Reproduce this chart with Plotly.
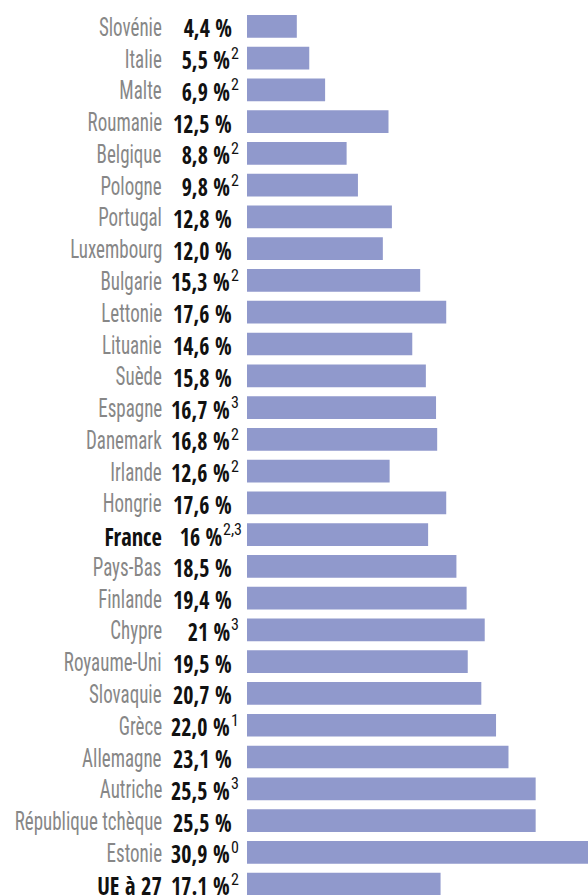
import json
import plotly.graph_objects as go

countries = ["Slovénie", "Italie", "Malte", "Roumanie", "Belgique", "Pologne", "Portugal",
             "Luxembourg", "Bulgarie", "Lettonie", "Lituanie", "Suède", "Espagne", "Danemark",
             "Irlande", "Hongrie", "France", "Pays-Bas", "Finlande", "Chypre", "Royaume-Uni",
             "Slovaquie", "Grèce", "Allemagne", "Autriche", "République tchèque", "Estonie",
             "UE à 27"]
values = [4.4, 5.5, 6.9, 12.5, 8.8, 9.8, 12.8, 12.0, 15.3, 17.6, 14.6, 15.8, 16.7, 16.8,
          12.6, 17.6, 16.0, 18.5, 19.4, 21.0, 19.5, 20.7, 22.0, 23.1, 25.5, 25.5, 30.9, 17.1]
value_labels = ["4,4 %", "5,5 %", "6,9 %", "12,5 %", "8,8 %", "9,8 %", "12,8 %", "12,0 %",
                "15,3 %", "17,6 %", "14,6 %", "15,8 %", "16,7 %", "16,8 %", "12,6 %", "17,6 %",
                "16 %", "18,5 %", "19,4 %", "21 %", "19,5 %", "20,7 %", "22,0 %", "23,1 %",
                "25,5 %", "25,5 %", "30,9 %", "17.1 %"]
notes = ["", "2", "2", "", "2", "2", "", "", "2", "", "", "", "3", "2", "2", "", "2,3", "",
         "", "3", "", "", "1", "", "3", "", "0", "2"]
highlight = ["France", "UE à 27"]

W, H = 588, 895
LEFT = 247
PX_PER_UNIT = 11.32
ROW0 = 26.3
ROW_STEP = 31.77

LABEL_FONT = "Roboto Condensed"
BOLD_FONT = "Open Sans Condensed"
BAR_COLOR = "#9099cc"
LABEL_SX = 0.76
BOLD_SX = 0.9
VALUE_SX = 0.88

ypos = list(range(len(countries)))

fig = go.Figure(go.Bar(
    x=values, y=ypos, orientation="h", marker=dict(color=BAR_COLOR, line=dict(width=0)),
    width=0.715, hoverinfo="skip"))

annotations = []
scales = {}
for i, (c, lab, n) in enumerate(zip(countries, value_labels, notes)):
    hl = c in highlight
    scales[len(annotations)] = BOLD_SX if hl else LABEL_SX
    annotations.append(dict(
        x=0, y=i, xref="x", yref="y", text=c,
        xanchor="right", yanchor="middle", xshift=164 - LEFT, yshift=-1, showarrow=False,
        font=dict(family=BOLD_FONT if hl else LABEL_FONT, size=25,
                  color="#111111" if hl else "#878787")))
    vx = 232 if not n else (230 if len(n) == 1 else 222)
    scales[len(annotations)] = VALUE_SX
    annotations.append(dict(
        x=0, y=i, xref="x", yref="y", text=lab,
        xanchor="right", yanchor="middle", xshift=vx + 2 - LEFT, yshift=-1, showarrow=False,
        font=dict(family=BOLD_FONT, size=25, color="#111111")))
    if n:
        annotations.append(dict(
            x=0, y=i, xref="x", yref="y", text=n,
            xanchor="left", yanchor="middle", xshift=vx - 1 - LEFT, yshift=5, showarrow=False,
            font=dict(family=LABEL_FONT, size=16, color="#111111")))

plot_w = W - LEFT
r0 = -ROW0 / ROW_STEP
r1 = r0 + H / ROW_STEP

fig.update_layout(
    width=W, height=H, margin=dict(l=LEFT, r=0, t=0, b=0),
    paper_bgcolor="white", plot_bgcolor="white", showlegend=False,
    xaxis=dict(range=[0, plot_w / PX_PER_UNIT], visible=False, fixedrange=True),
    yaxis=dict(range=[r1, r0], visible=False, fixedrange=True),
    annotations=annotations,
)

js = """
document.body.style.margin='0';document.body.style.overflow='hidden';
var SX = %s;
function squeeze(){
  document.querySelectorAll('g.annotation').forEach(function(g){
    var f = SX[g.getAttribute('data-index')];
    if (f && f !== 1) {
      var t = g.querySelector('text');
      if (t) {
        t.style.transformBox = 'fill-box';
        t.style.transformOrigin = 'right center';
        t.style.transform = 'scaleX(' + f + ')';
      }
    }
  });
}
squeeze();
setTimeout(squeeze, 50);
""" % json.dumps({str(k): v for k, v in scales.items()})

fig.write_html("out.html", config={"displayModeBar": False}, post_script=js)
